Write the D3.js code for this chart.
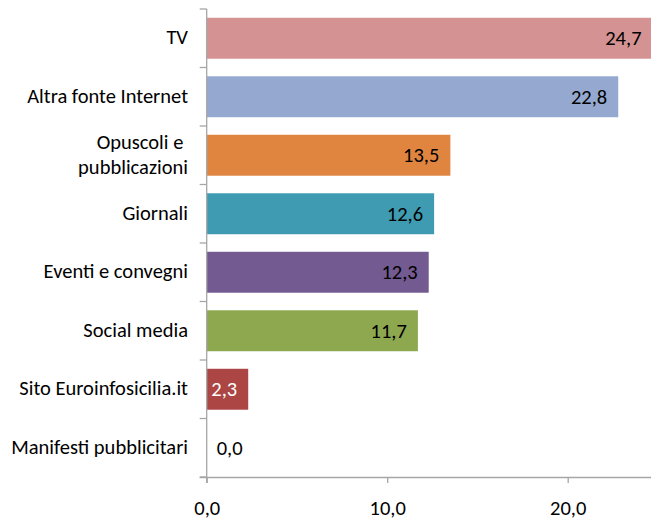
<!DOCTYPE html>
<html>
<head>
<meta charset="utf-8">
<script src="https://cdn.jsdelivr.net/npm/d3@7"></script>
<style>
  html, body { margin: 0; padding: 0; background: #fff; overflow: hidden; }
  svg text { font-family: Carlito, Lato, "Open Sans", sans-serif; font-size: 20.5px; fill: #000; }
</style>
</head>
<body>
<svg id="chart" width="651" height="522"></svg>
<script>
// Information sources (percent of respondents)
const categories = [
  "TV",
  "Altra fonte Internet",
  "Opuscoli e pubblicazioni",
  "Giornali",
  "Eventi e convegni",
  "Social media",
  "Sito Euroinfosicilia.it",
  "Manifesti pubblicitari"
];
const values = [24.7, 22.8, 13.5, 12.6, 12.3, 11.7, 2.3, 0.0];
const barColors = ["#d49392", "#95a9d0", "#df8540", "#3f9bb1", "#735a91", "#8ea84f", "#ab4644", "#999999"];
const labelColors = ["#000", "#000", "#000", "#000", "#000", "#000", "#fff", "#000"];
const xTicks = [0, 10, 20];

const svg = d3.select("#chart");
const x0 = 206.7, yTop = 9, yBottom = 477;

const x = d3.scaleLinear().domain([0, 25]).range([x0, x0 + 25 * 18.05]);
const y = d3.scaleBand().domain(categories).range([yTop, yBottom]).paddingInner(0.3).paddingOuter(0.15);

const fmt = v => d3.format(".1f")(v).replace(".", ",");

// bars
svg.append("g").selectAll("rect")
  .data(values)
  .join("rect")
  .attr("x", x(0))
  .attr("y", (d, i) => y(categories[i]))
  .attr("width", d => x(d) - x(0))
  .attr("height", y.bandwidth())
  .attr("fill", (d, i) => barColors[i]);

// value labels at the inner end of each bar
svg.append("g").selectAll("text")
  .data(values)
  .join("text")
  .attr("x", d => d > 0 ? x(d) - 11 : x(0) + 10)
  .attr("y", (d, i) => y(categories[i]) + y.bandwidth() / 2)
  .attr("dy", "0.35em")
  .attr("text-anchor", d => d > 0 ? "end" : "start")
  .style("fill", (d, i) => labelColors[i])
  .text(fmt);

// category axis
const yAxisGrid = d3.scaleBand().domain(categories).range([yTop, yBottom]);
const axisColor = "#a6a6a6";
const gy = svg.append("g");
gy.append("line")
  .attr("x1", x0).attr("x2", x0)
  .attr("y1", yTop).attr("y2", yBottom + 6)
  .attr("stroke", axisColor).attr("stroke-width", 1.3);
gy.selectAll("line.tick")
  .data(d3.range(categories.length + 1))
  .join("line")
  .attr("class", "tick")
  .attr("x1", x0 - 7).attr("x2", x0)
  .attr("y1", i => yTop + i * yAxisGrid.step())
  .attr("y2", i => yTop + i * yAxisGrid.step())
  .attr("stroke", axisColor).attr("stroke-width", 1.3);

// category labels; the long one wraps onto two lines
const lineGap = 24.5;
categories.forEach((c, i) => {
  const cy = yAxisGrid(c) + yAxisGrid.bandwidth() / 2 - 1;
  const lines = c === "Opuscoli e pubblicazioni" ? ["Opuscoli e\u00a0", "pubblicazioni"] : [c];
  lines.forEach((l, j) => {
    gy.append("text")
      .attr("text-anchor", "end")
      .attr("x", 188)
      .attr("y", cy - (lines.length - 1) * lineGap / 2 + j * lineGap)
      .attr("dy", "0.35em")
      .text(l);
  });
});

// value axis
const xAxis = d3.axisBottom(x).tickValues(xTicks).tickFormat(fmt).tickSize(6).tickSizeOuter(0);
const gx = svg.append("g").attr("transform", `translate(0,${yBottom})`).call(xAxis);
gx.select(".domain").attr("stroke", axisColor).attr("stroke-width", 1.3).attr("d", `M${x0 - 7},0.5H${x(25)}`);
gx.selectAll(".tick line").attr("stroke", axisColor).attr("stroke-width", 1.3);
gx.selectAll(".tick text").attr("dy", 0).attr("y", 38).style("font-size", "20.5px")
  .style("font-family", "Carlito, Lato, 'Open Sans', sans-serif");
</script>
</body>
</html>
